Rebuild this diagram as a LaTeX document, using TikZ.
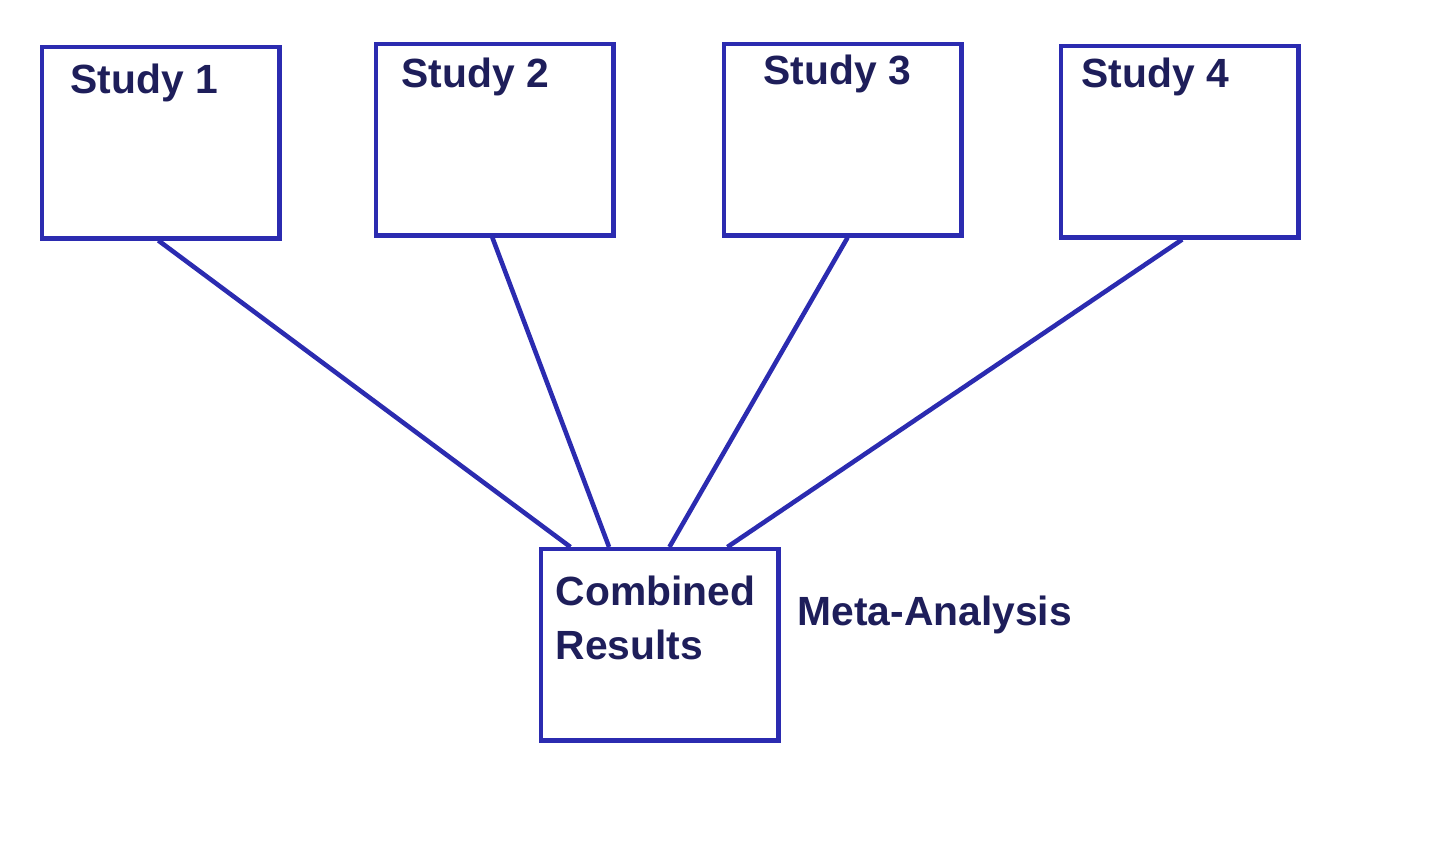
\documentclass[tikz,border=0pt]{standalone}
\usepackage{fontspec}
\setmainfont{Liberation Sans}
\usetikzlibrary{calc}
\definecolor{ln}{HTML}{2B2BB0}
\definecolor{tx}{HTML}{1E1E5A}
\begin{document}
\begin{tikzpicture}[x=0.01cm,y=-0.01cm,
  box/.style={draw=ln,line width=1.25pt,minimum width=2.37cm,minimum height=1.91cm,anchor=north west,inner sep=0},
  lbl/.style={text=tx,font=\bfseries\fontsize{11.6}{15.5}\selectfont,anchor=west,inner sep=0},
  conn/.style={draw=ln,line width=1.3pt}]
\useasboundingbox (0,0) rectangle (1440,864);
\node[box] (s1) at (40,45) {};
\node[box] (s2) at (374,42) {};
\node[box] (s3) at (722,42) {};
\node[box] (s4) at (1059,44) {};
\node[box] (c) at (539,547) {};
\node[lbl] (t1) at (70,83) {Study 1};
\node[lbl] (t2) at (401,77) {Study 2};
\node[lbl] (t3) at (763,74) {Study 3};
\node[lbl] (t4) at (1081,77) {Study 4};
\node[lbl,align=left,anchor=north west] (ct) at (555,575) {Combined\\Results};
\node[lbl] (m) at (797,615) {Meta-Analysis};
\coordinate (a1) at ($(s1.south west)!0.49!(s1.south east)$);
\coordinate (a2) at ($(s2.south west)!0.49!(s2.south east)$);
\coordinate (a3) at ($(s3.south west)!0.52!(s3.south east)$);
\coordinate (a4) at ($(s4.south west)!0.51!(s4.south east)$);
\coordinate (b1) at ($(c.north west)!0.13!(c.north east)$);
\coordinate (b2) at ($(c.north west)!0.29!(c.north east)$);
\coordinate (b3) at ($(c.north west)!0.54!(c.north east)$);
\coordinate (b4) at ($(c.north west)!0.78!(c.north east)$);
\draw[conn] (a1) -- (b1);
\draw[conn] (a2) -- (b2);
\draw[conn] (a3) -- (b3);
\draw[conn] (a4) -- (b4);
\end{tikzpicture}
\end{document}
